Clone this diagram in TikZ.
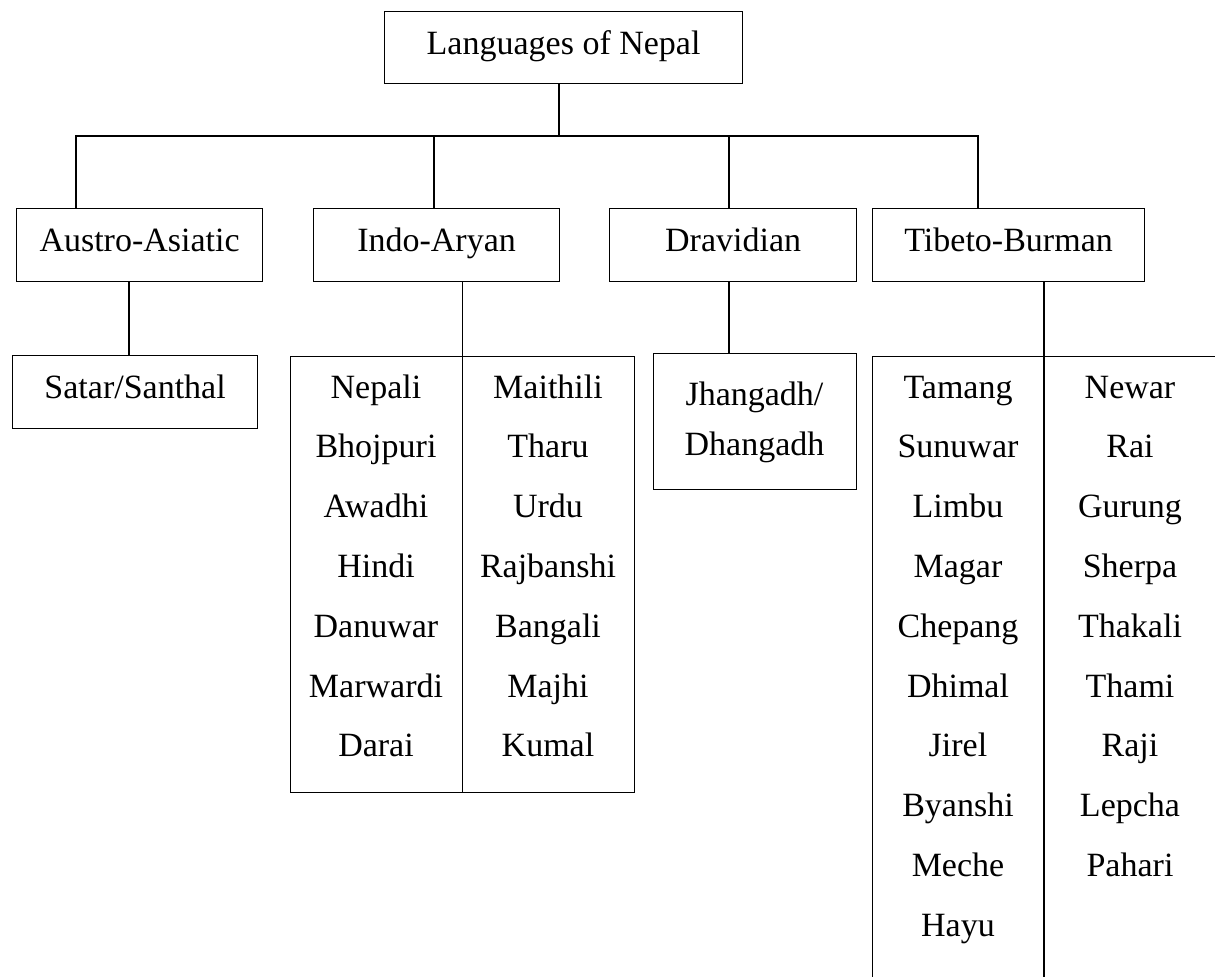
\documentclass[tikz,border=0pt]{standalone}
\usepackage{fontspec}
\setmainfont{Liberation Serif}
\begin{document}
\begin{tikzpicture}[x=0.5pt,y=-0.5pt,line width=0.6pt,
  box/.style={draw, rectangle, inner sep=0pt, anchor=north west,
    text height=12pt, text depth=5.5pt, font=\fontsize{17}{20}\selectfont},
  word/.style={anchor=base, inner sep=0pt, font=\fontsize{17}{20}\selectfont},
  conn/.style={draw, line width=0.6pt}]
\useasboundingbox (0,0) rectangle (1215,976);
\fill[white] (0,0) rectangle (1215,976);
\clip (0,0) rectangle (1215,976);

% root
\node[box, minimum width=358*0.5pt, minimum height=72*0.5pt] (root) at (384,11) {Languages of Nepal};

% families
\node[box, minimum width=246*0.5pt, minimum height=73*0.5pt] (aa) at (16,208) {Austro-Asiatic};
\node[box, minimum width=246*0.5pt, minimum height=73*0.5pt] (ia) at (313,208) {Indo-Aryan};
\node[box, minimum width=247*0.5pt, minimum height=73*0.5pt] (dr) at (609,208) {Dravidian};
\node[box, minimum width=272*0.5pt, minimum height=73*0.5pt] (tb) at (872,208) {Tibeto-Burman};

% third row
\node[box, minimum width=245*0.5pt, minimum height=73*0.5pt] (sa) at (12,355) {Satar/Santhal};
\node[draw, rectangle, inner sep=0pt, anchor=north west, minimum width=344*0.5pt, minimum height=436*0.5pt] (il) at (290,356) {};
\node[draw, rectangle, inner sep=0pt, anchor=north west, minimum width=203*0.5pt, minimum height=136*0.5pt] (jh) at (653,353) {};
\node[draw, rectangle, inner sep=0pt, anchor=north west, minimum width=346*0.5pt, minimum height=660*0.5pt] (tl) at (872,356) {};

% junction coordinates
\coordinate (j0) at (559,136);
\coordinate (ja) at (76,136);
\coordinate (ji) at (434,136);
\coordinate (jd) at (729,136);
\coordinate (jt) at (978,136);
\coordinate (xa) at (129,0);
\coordinate (xd) at (729,0);
\coordinate (xt) at (1044,0);

% connectors
\draw[conn] (root.south -| j0) -- (j0);
\draw[conn] (ja |- aa.north) -- (ja) -- (jt) -- (jt |- tb.north);
\draw[conn] (ji |- ia.north) -- (ji);
\draw[conn] (jd |- dr.north) -- (jd);
\draw[conn] (aa.south -| xa) -- (sa.north -| xa);
\draw[conn] (ia.south -| il.north) -- (il.south -| il.north);
\draw[conn] (dr.south -| xd) -- (jh.north -| xd);
\draw[conn] (tb.south -| xt) -- (tl.south -| xt);

% Dravidian list
\node[word] (jh1) at (754.5,405) {Jhangadh/};
\node[word] (jh2) at (754.5,455) {Dhangadh};

% Indo-Aryan lists
\foreach \w [count=\i] in {Nepali,Bhojpuri,Awadhi,Hindi,Danuwar,Marwardi,Darai}
  \node[word] (ial-\i) at (376,{398+59.8*(\i-1)}) {\w};
\foreach \w [count=\i] in {Maithili,Tharu,Urdu,Rajbanshi,Bangali,Majhi,Kumal}
  \node[word] (iar-\i) at (548,{398+59.8*(\i-1)}) {\w};

% Tibeto-Burman lists
\foreach \w [count=\i] in {Tamang,Sunuwar,Limbu,Magar,Chepang,Dhimal,Jirel,Byanshi,Meche,Hayu}
  \node[word] (tbl-\i) at (958,{398+59.8*(\i-1)}) {\w};
\foreach \w [count=\i] in {Newar,Rai,Gurung,Sherpa,Thakali,Thami,Raji,Lepcha,Pahari}
  \node[word] (tbr-\i) at (1130,{398+59.8*(\i-1)}) {\w};
\end{tikzpicture}
\end{document}
